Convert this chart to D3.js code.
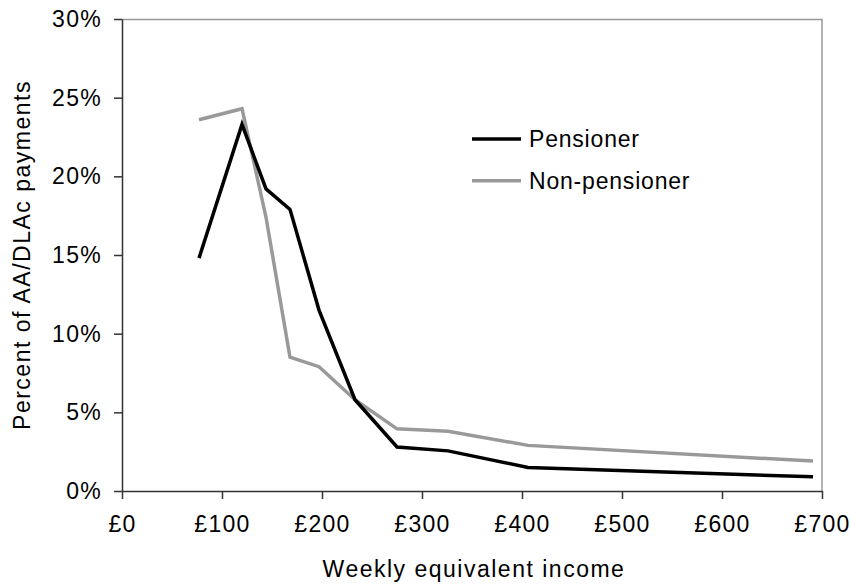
<!DOCTYPE html>
<html>
<head>
<meta charset="utf-8">
<script src="https://cdn.jsdelivr.net/npm/d3@7"></script>
<style>
  body { margin: 0; background: #fff; }
  text { font-family: "Liberation Sans", Arial, sans-serif; fill: #000; }
</style>
</head>
<body>
<div id="chart"></div>
<script>
// Weekly equivalent income (band midpoints, £)
const income = [77, 120, 144, 168, 197, 233, 275, 326, 406, 691];
// Percent of AA/DLAc payments
const pensioner = [14.8, 23.3, 19.2, 17.9, 11.5, 5.8, 2.8, 2.55, 1.5, 0.9];
const nonPensioner = [23.6, 24.3, 17.4, 8.5, 7.9, 5.8, 3.95, 3.8, 2.9, 1.9];
const xTicks = [0, 100, 200, 300, 400, 500, 600, 700];
const yTicks = [0, 5, 10, 15, 20, 25, 30];
const seriesNames = ["Pensioner", "Non-pensioner"];

const colors = { "Pensioner": "#000000", "Non-pensioner": "#999999" };

// Define chart dimensions and margins
const margin = { top: 19, right: 28, bottom: 95, left: 122 };
const width = 850 - margin.left - margin.right;
const height = 586 - margin.top - margin.bottom;

const svg = d3
  .select("#chart")
  .append("svg")
  .attr("width", width + margin.left + margin.right)
  .attr("height", height + margin.top + margin.bottom)
  .append("g")
  .attr("transform", `translate(${margin.left},${margin.top})`);

// Create scales
const x = d3.scaleLinear().domain([0, 700]).range([0, width]);
const y = d3.scaleLinear().domain([0, 30]).range([height, 0]);

// Frame (top and right edges)
svg.append("path")
  .attr("d", `M0,0.5H${width}V${height}`)
  .attr("fill", "none")
  .attr("stroke", "#999")
  .attr("stroke-width", 1.5);

// Add X axis
const xAxis = svg.append("g")
  .attr("transform", `translate(0, ${height})`)
  .call(d3.axisBottom(x).tickValues(xTicks).tickSize(8).tickSizeOuter(0)
    .tickPadding(17).tickFormat((d) => "£" + d));

// Add Y axis
const yAxis = svg.append("g")
  .call(d3.axisLeft(y).tickValues(yTicks).tickSize(8).tickSizeOuter(0)
    .tickPadding(12).tickFormat((d) => d + "%"));

[xAxis, yAxis].forEach((g) => {
  g.selectAll("path, line").attr("stroke", "#333").attr("stroke-width", 1.5);
  g.selectAll("text")
    .attr("fill", "#000")
    .style("font-size", "23px")
    .style("letter-spacing", "1.3px")
    .style("font-family", "'Liberation Sans', Arial, sans-serif");
});

// Axis titles
svg.append("text")
  .attr("x", width / 2 + 2)
  .attr("y", height + 86)
  .attr("text-anchor", "middle")
  .style("font-size", "23px")
  .style("letter-spacing", "1.5px")
  .text("Weekly equivalent income");

svg.append("text")
  .attr("transform", `translate(${30 - margin.left},${height / 2}) rotate(-90)`)
  .attr("text-anchor", "middle")
  .style("font-size", "23px")
  .style("letter-spacing", "1.5px")
  .text("Percent of AA/DLAc payments");

// Define line function
const line = d3
  .line()
  .x((d) => x(d[0]))
  .y((d) => y(d[1]));

const series = [
  { name: "Non-pensioner", values: d3.zip(income, nonPensioner) },
  { name: "Pensioner", values: d3.zip(income, pensioner) }
];

series.forEach((s) => {
  svg.append("path")
    .datum(s.values)
    .attr("fill", "none")
    .attr("stroke", colors[s.name])
    .attr("stroke-width", 3.5)
    .attr("stroke-linejoin", "miter")
    .attr("d", line);
});

// Legend
const legend = svg.append("g").attr("transform", `translate(${472 - margin.left},${139 - margin.top})`);
seriesNames.forEach((name, i) => {
  const row = legend.append("g").attr("transform", `translate(0,${i * 41.7})`);
  row.append("line")
    .attr("x1", 0).attr("x2", 49)
    .attr("stroke", colors[name])
    .attr("stroke-width", 3.5);
  row.append("text")
    .attr("x", 57)
    .attr("dy", "0.35em")
    .style("font-size", "23px")
    .style("letter-spacing", "0.8px")
    .text(name);
});
</script>
</body>
</html>
